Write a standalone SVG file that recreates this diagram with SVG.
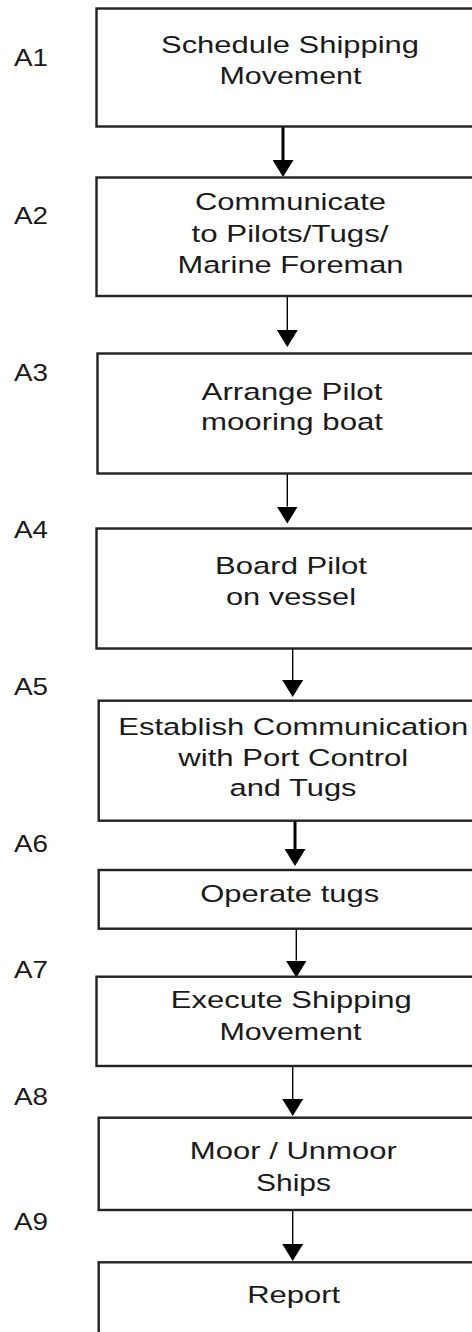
<svg xmlns="http://www.w3.org/2000/svg" width="472" height="1332" viewBox="0 0 472 1332">
<style>
.box{fill:#fff;stroke:#222;stroke-width:2.4}
.t{font-family:"Liberation Sans",Arial,sans-serif;font-size:24.5px;fill:#1a1a1a;text-anchor:middle}
.lbl{font-family:"Liberation Sans",Arial,sans-serif;font-size:23.5px;fill:#1a1a1a}
.thin{stroke:#000;stroke-width:1.4;fill:none;marker-end:url(#ah)}
.thick{stroke:#000;stroke-width:3;fill:none;marker-end:url(#ah)}
</style>
<defs>
<marker id="ah" markerUnits="userSpaceOnUse" markerWidth="17" markerHeight="21" viewBox="0 0 17 21" refX="0" refY="10.5" orient="auto">
<path d="M0,0 L17,10.5 L0,21 Z" fill="#000"/>
</marker>
</defs>
<rect width="472" height="1332" fill="#fff"/>
<g id="labels">
<text class="lbl" x="14" y="66" textLength="34" lengthAdjust="spacingAndGlyphs">A1</text>
<text class="lbl" x="14" y="224" textLength="34" lengthAdjust="spacingAndGlyphs">A2</text>
<text class="lbl" x="14" y="381" textLength="34" lengthAdjust="spacingAndGlyphs">A3</text>
<text class="lbl" x="14" y="538" textLength="34" lengthAdjust="spacingAndGlyphs">A4</text>
<text class="lbl" x="14" y="695" textLength="34" lengthAdjust="spacingAndGlyphs">A5</text>
<text class="lbl" x="14" y="852" textLength="34" lengthAdjust="spacingAndGlyphs">A6</text>
<text class="lbl" x="14" y="978" textLength="34" lengthAdjust="spacingAndGlyphs">A7</text>
<text class="lbl" x="14" y="1105" textLength="34" lengthAdjust="spacingAndGlyphs">A8</text>
<text class="lbl" x="14" y="1230" textLength="34" lengthAdjust="spacingAndGlyphs">A9</text>
</g>
<g id="connectors">
<path d="M283,127 V160" class="thick"/>
<path d="M287.3,296 V330" class="thin"/>
<path d="M287.3,473 V506.5" class="thin"/>
<path d="M292.7,648 V680" class="thin"/>
<path d="M295,821 V849" class="thick"/>
<path d="M296.3,929 V960.5" class="thin"/>
<path d="M292.7,1066 V1099" class="thin"/>
<path d="M292.7,1210 V1244" class="thin"/>
</g>
<g id="n1"><rect class="box" x="96.5" y="8.5" width="390" height="118"/>
<text class="t" x="290" y="53" textLength="258" lengthAdjust="spacingAndGlyphs">Schedule Shipping</text>
<text class="t" x="290.5" y="84" textLength="142" lengthAdjust="spacingAndGlyphs">Movement</text></g>
<g id="n2"><rect class="box" x="96.5" y="177.5" width="390" height="118.5"/>
<text class="t" x="290.5" y="210" textLength="191" lengthAdjust="spacingAndGlyphs">Communicate</text>
<text class="t" x="290" y="241.5" textLength="197" lengthAdjust="spacingAndGlyphs">to Pilots/Tugs/</text>
<text class="t" x="290.5" y="272.5" textLength="226" lengthAdjust="spacingAndGlyphs">Marine Foreman</text></g>
<g id="n3"><rect class="box" x="97.5" y="353.5" width="390" height="120"/>
<text class="t" x="292" y="400" textLength="181" lengthAdjust="spacingAndGlyphs">Arrange Pilot</text>
<text class="t" x="292" y="430" textLength="182" lengthAdjust="spacingAndGlyphs">mooring boat</text></g>
<g id="n4"><rect class="box" x="96.5" y="528.5" width="390" height="120"/>
<text class="t" x="291" y="573.5" textLength="152" lengthAdjust="spacingAndGlyphs">Board Pilot</text>
<text class="t" x="291" y="605" textLength="130" lengthAdjust="spacingAndGlyphs">on vessel</text></g>
<g id="n5"><rect class="box" x="98.7" y="700.7" width="390" height="120"/>
<text class="t" x="293.3" y="735" textLength="350" lengthAdjust="spacingAndGlyphs">Establish Communication</text>
<text class="t" x="293.3" y="765.5" textLength="230" lengthAdjust="spacingAndGlyphs">with Port Control</text>
<text class="t" x="293" y="796" textLength="127" lengthAdjust="spacingAndGlyphs">and Tugs</text></g>
<g id="n6"><rect class="box" x="98.7" y="870" width="390" height="58.7"/>
<text class="t" x="289.7" y="902.3" textLength="179" lengthAdjust="spacingAndGlyphs">Operate tugs</text></g>
<g id="n7"><rect class="box" x="96.5" y="976.7" width="390" height="89.3"/>
<text class="t" x="291.3" y="1008.3" textLength="241" lengthAdjust="spacingAndGlyphs">Execute Shipping</text>
<text class="t" x="290.5" y="1040" textLength="142" lengthAdjust="spacingAndGlyphs">Movement</text></g>
<g id="n8"><rect class="box" x="98.7" y="1117.7" width="390" height="92.3"/>
<text class="t" x="293.3" y="1159.3" textLength="207" lengthAdjust="spacingAndGlyphs">Moor / Unmoor</text>
<text class="t" x="293.5" y="1190.7" textLength="75" lengthAdjust="spacingAndGlyphs">Ships</text></g>
<g id="n9"><rect class="box" x="98.7" y="1262.3" width="390" height="100"/>
<text class="t" x="293.7" y="1303.3" textLength="93" lengthAdjust="spacingAndGlyphs">Report</text></g>
</svg>
